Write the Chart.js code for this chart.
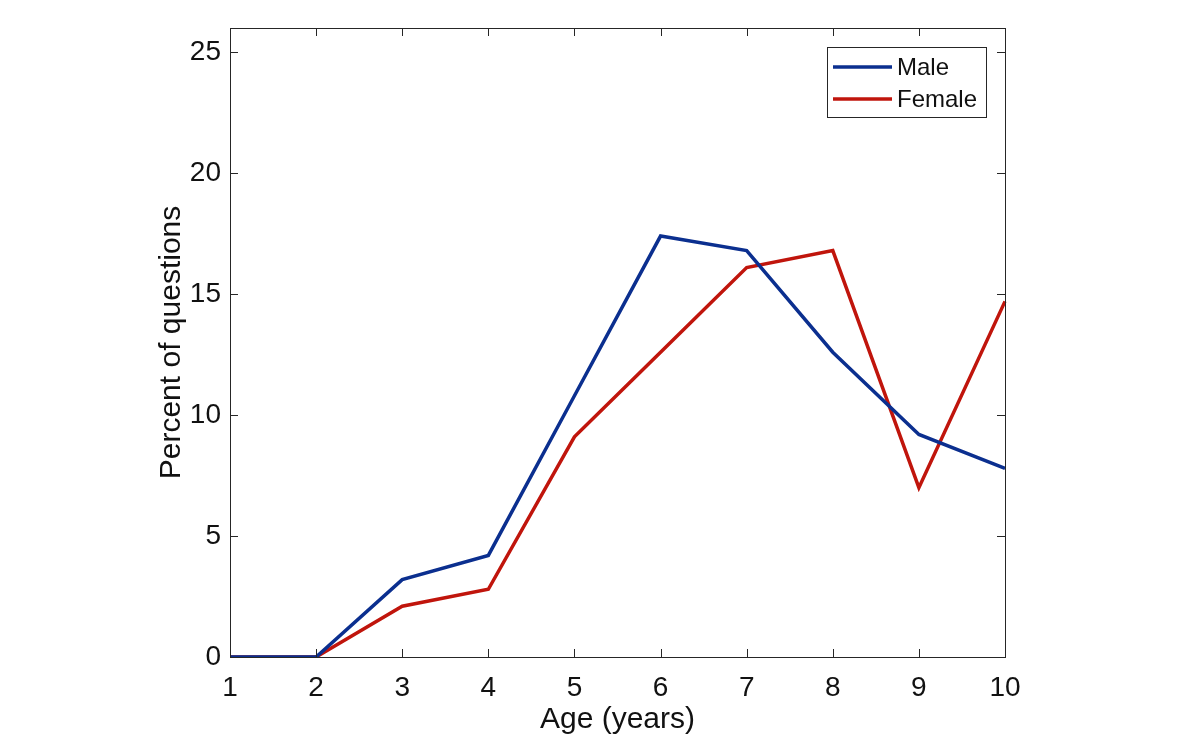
<!DOCTYPE html>
<html>
<head>
<meta charset="utf-8">
<script src="https://cdn.jsdelivr.net/npm/chart.js@4"></script>
<style>
  html, body { margin: 0; padding: 0; background: #fff; }
  #wrap { width: 1200px; height: 750px; }
</style>
</head>
<body>
<div id="wrap"><canvas id="myChart" width="1200" height="750"></canvas></div>
<script>
const ages = ['1', '2', '3', '4', '5', '6', '7', '8', '9', '10'];
const male = [0, 0, 3.2, 4.2, 10.8, 17.4, 16.8, 12.6, 9.2, 7.8];
const female = [0, 0, 2.1, 2.8, 9.1, 12.6, 16.1, 16.8, 7.0, 14.7];
const yTicks = [0, 5, 10, 15, 20, 25];
const seriesNames = ['Male', 'Female'];
const seriesColors = ['#0b2f8f', '#c0150c'];

const FONT = 'Liberation Sans, Arial, Helvetica, sans-serif';
const AXIS = '#262626';

// box round the plot with inward ticks on all four sides
const frame = {
  id: 'frame',
  afterDraw(chart) {
    const ctx = chart.ctx;
    const a = chart.chartArea;
    const xs = chart.scales.x, ys = chart.scales.y;
    const len = 8;
    ctx.save();
    ctx.strokeStyle = AXIS;
    ctx.lineWidth = 1;
    ctx.strokeRect(a.left + 0.5, a.top + 0.5, a.right - a.left, a.bottom - a.top);
    ctx.beginPath();
    ages.forEach((lab, i) => {
      const x = Math.round(xs.getPixelForValue(i)) + 0.5;
      ctx.moveTo(x, a.bottom); ctx.lineTo(x, a.bottom - len);
      ctx.moveTo(x, a.top); ctx.lineTo(x, a.top + len);
    });
    yTicks.forEach(v => {
      const y = Math.round(ys.getPixelForValue(v)) + 0.5;
      ctx.moveTo(a.left, y); ctx.lineTo(a.left + len, y);
      ctx.moveTo(a.right, y); ctx.lineTo(a.right - len, y);
    });
    ctx.stroke();

    // legend box
    const lx = 827, ly = 47, lw = 159, lh = 70;
    ctx.fillStyle = '#fff';
    ctx.fillRect(lx, ly, lw, lh);
    ctx.strokeRect(lx + 0.5, ly + 0.5, lw, lh);
    ctx.font = '24px ' + FONT;
    ctx.textBaseline = 'middle';
    ctx.textAlign = 'left';
    seriesNames.forEach((name, i) => {
      const y = 67 + i * 32;
      ctx.strokeStyle = seriesColors[i];
      ctx.lineWidth = 3.5;
      ctx.beginPath();
      ctx.moveTo(833, y); ctx.lineTo(892, y);
      ctx.stroke();
      ctx.fillStyle = '#111';
      ctx.fillText(name, 897, y + 1);
    });
    ctx.restore();
  }
};

new Chart(document.getElementById('myChart'), {
  type: 'line',
  data: {
    labels: ages,
    datasets: [
      { label: seriesNames[0], data: male, borderColor: seriesColors[0], borderWidth: 3.5, pointRadius: 0, tension: 0 },
      { label: seriesNames[1], data: female, borderColor: seriesColors[1], borderWidth: 3.5, pointRadius: 0, tension: 0 }
    ]
  },
  options: {
    responsive: false,
    animation: false,
    layout: { padding: { left: 150, right: 195, top: 28, bottom: 8 } },
    plugins: { legend: { display: false }, tooltip: { enabled: false } },
    scales: {
      x: {
        grid: { display: false, drawTicks: false },
        border: { display: false },
        afterFit: s => { s.height = 85; },
        ticks: { color: '#111', font: { family: FONT, size: 28 }, padding: 14, maxRotation: 0, autoSkip: false },
        title: { display: true, text: 'Age (years)', color: '#111', font: { family: FONT, size: 30 } }
      },
      y: {
        min: 0,
        max: 26,
        grid: { display: false, drawTicks: false },
        border: { display: false },
        afterFit: s => { s.width = 80; },
        afterBuildTicks: s => { s.ticks = yTicks.map(v => ({ value: v })); },
        ticks: { color: '#111', font: { family: FONT, size: 28 }, padding: 9 },
        title: { display: true, text: 'Percent of questions', color: '#111', font: { family: FONT, size: 30 } }
      }
    }
  },
  plugins: [frame]
});
</script>
</body>
</html>
